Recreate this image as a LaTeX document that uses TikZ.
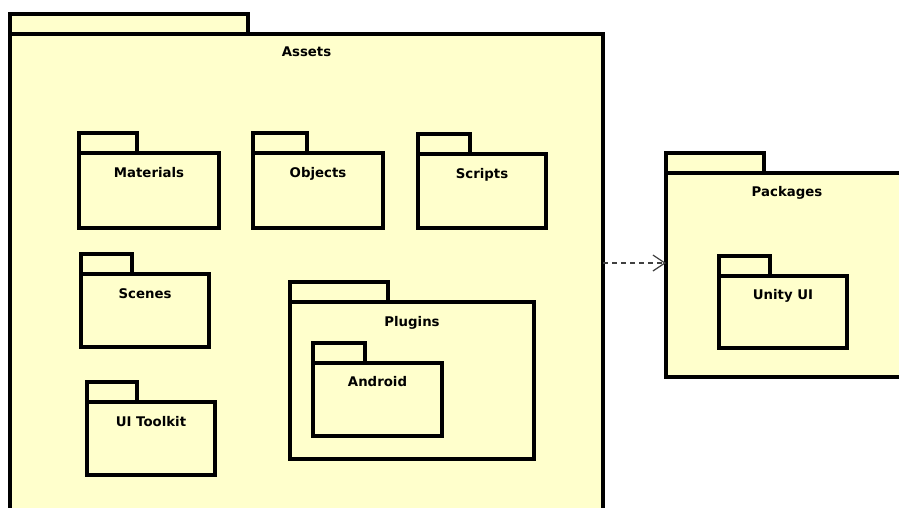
\documentclass[tikz,border=0pt]{standalone}
\usepackage{fontspec}
\setmainfont{DejaVu Sans}
\usetikzlibrary{positioning,arrows.meta}
\definecolor{pkgyellow}{RGB}{255,255,204}

\begin{document}
\begin{tikzpicture}[
  x=1pt, y=-1pt,
  pkgbody/.style={rectangle, draw, fill=pkgyellow, line width=3.3pt, outer sep=0pt, inner sep=0pt},
  pkgtab/.style={pkgbody, minimum height=20pt, anchor=south west},
  pkgname/.style={font=\bfseries\fontsize{13.3}{15}\selectfont, anchor=base, inner sep=0pt},
  dep/.style={dash pattern=on 5pt off 4pt, line width=1.2pt, black!75, -{Straight Barb[length=12pt, width=16pt]}}
]
  \useasboundingbox (0,0) rectangle (899,507);

  % Outer package Assets
  \node[pkgbody, minimum width=593pt, minimum height=500pt] (assets) at (306.5,284) {};
  \node[pkgtab, minimum width=238pt] (assetstab) at (assets.north west) {};
  \node[pkgname] (assetsname) at ([yshift=-22pt]assets.north) {Assets};

  % First row
  \node[pkgbody, minimum width=140pt, minimum height=75pt] (materials) at (149,190.5) {};
  \node[pkgtab, minimum width=58pt] (materialstab) at (materials.north west) {};
  \node[pkgname] (materialsname) at ([yshift=-24pt]materials.north) {Materials};

  \node[pkgbody, minimum width=130pt, minimum height=75pt] (objects) at (318,190.5) {};
  \node[pkgtab, minimum width=54pt] (objectstab) at (objects.north west) {};
  \node[pkgname] (objectsname) at ([yshift=-24pt]objects.north) {Objects};

  \node[pkgbody, minimum width=128pt, minimum height=74pt] (scripts) at (482,191) {};
  \node[pkgtab, minimum width=52pt] (scriptstab) at (scripts.north west) {};
  \node[pkgname] (scriptsname) at ([yshift=-24pt]scripts.north) {Scripts};

  % Left column
  \node[pkgbody, minimum width=128pt, minimum height=73pt] (scenes) at (145,310.5) {};
  \node[pkgtab, minimum width=51pt] (scenestab) at (scenes.north west) {};
  \node[pkgname] (scenesname) at ([yshift=-24pt]scenes.north) {Scenes};

  \node[pkgbody, minimum width=128pt, minimum height=73pt] (uitoolkit) at (151,438.5) {};
  \node[pkgtab, minimum width=50pt] (uitoolkittab) at (uitoolkit.north west) {};
  \node[pkgname] (uitoolkitname) at ([yshift=-24pt]uitoolkit.north) {UI Toolkit};

  % Plugins with Android inside
  \node[pkgbody, minimum width=244pt, minimum height=157pt] (plugins) at (412,380.5) {};
  \node[pkgtab, minimum width=98pt] (pluginstab) at (plugins.north west) {};
  \node[pkgname] (pluginsname) at ([yshift=-24pt]plugins.north) {Plugins};

  \node[pkgbody, minimum width=129pt, minimum height=73pt] (android) at (377.5,399.5) {};
  \node[pkgtab, minimum width=52pt] (androidtab) at (android.north west) {};
  \node[pkgname] (androidname) at ([yshift=-23pt]android.north) {Android};

  % Outer package Packages
  \node[pkgbody, minimum width=242pt, minimum height=204pt] (packages) at (787,275) {};
  \node[pkgtab, minimum width=98pt] (packagestab) at (packages.north west) {};
  \node[pkgname] (packagesname) at ([yshift=-23pt]packages.north) {Packages};

  \node[pkgbody, minimum width=128pt, minimum height=72pt] (unityui) at (783,312) {};
  \node[pkgtab, minimum width=51pt] (unityuitab) at (unityui.north west) {};
  \node[pkgname] (unityuiname) at ([yshift=-23pt]unityui.north) {Unity UI};

  % Dependency
  \coordinate (deplevel) at (0,263);
  \draw[dep] (assets.east |- deplevel) -- (packages.west |- deplevel);
\end{tikzpicture}
\end{document}
